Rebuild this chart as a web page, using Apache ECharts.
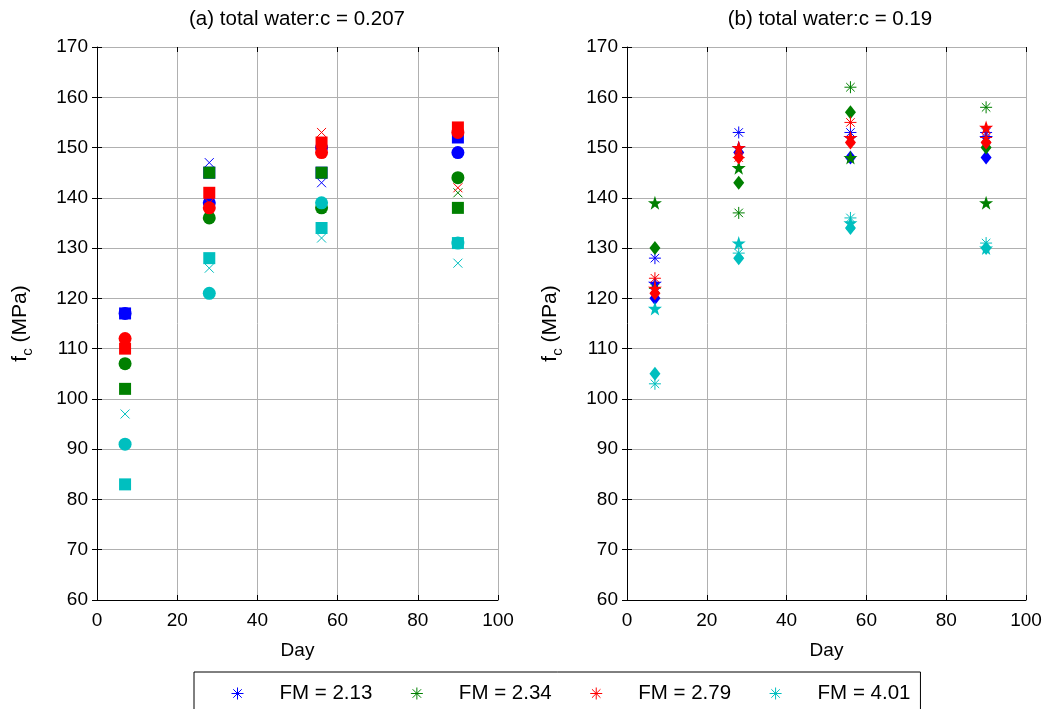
<!DOCTYPE html>
<html>
<head>
<meta charset="utf-8">
<script src="https://cdn.jsdelivr.net/npm/echarts@6/dist/echarts.min.js"></script>
<style>
html,body{margin:0;padding:0;background:#fff;}
#chart{width:1059px;height:709px;}
</style>
</head>
<body>
<div id="chart"></div>
<script>
// ---------- data ----------
const days = [7, 28, 56, 90];
const xTicks = [0, 20, 40, 60, 80, 100];
const yTicks = [60, 70, 80, 90, 100, 110, 120, 130, 140, 150, 160, 170];
const fmLabels = ['FM = 2.13', 'FM = 2.34', 'FM = 2.79', 'FM = 4.01'];
const titleA = '(a) total water:c = 0.207';
const titleB = '(b) total water:c = 0.19';

// panel (a): square, circle, x markers
const aSquare213 = [117, 145, 145, 152];
const aCircle213 = [117, 139, 150, 149];
const aCross213  = [111, 147, 143, 152];
const aSquare234 = [102, 145, 145, 138];
const aCircle234 = [107, 136, 138, 144];
const aCross234  = [107, 137, 138, 141];
const aSquare279 = [110, 141, 151, 154];
const aCircle279 = [112, 138, 149, 153];
const aCross279  = [111, 139, 153, 142];
const aSquare401 = [83, 128, 134, 131];
const aCircle401 = [91, 121, 139, 131];
const aCross401  = [97, 126, 132, 127];

// panel (b): asterisk, pentagram, diamond markers
const bAster213 = [128, 153, 153, 153];
const bStar213  = [123, 150, 152, 152];
const bDiam213  = [120, 149, 148, 148];
const bAster234 = [122, 137, 162, 158];
const bStar234  = [139, 146, 148, 139];
const bDiam234  = [130, 143, 157, 150];
const bAster279 = [124, 148, 155, 152];
const bStar279  = [122, 150, 152, 154];
const bDiam279  = [121, 148, 151, 151];
const bAster401 = [103, 129, 136, 131];
const bStar401  = [118, 131, 135, 130];
const bDiam401  = [105, 128, 134, 130];

// ---------- styles ----------
const colors = ['#0000ff', '#008000', '#ff0000', '#00bfbf'];
const FONT = 'Liberation Sans, Arial, Helvetica, sans-serif';
const FS = 19;
const CROSS = 'path://M0,0L10,10M10,0L0,10';
const ASTER = 'path://M5,0L5,10M0,5L10,5M1.46,1.46L8.54,8.54M8.54,1.46L1.46,8.54';
const STAR = 'path://M50,0L61.8,35.1L98.1,35.1L68.8,56.7L79.4,90.9L50,69.8L20.6,90.9L31.2,56.7L1.9,35.1L38.2,35.1Z';

function pts(vals) { return days.map((d, i) => [d, vals[i]]); }

function mk(name, vals, color, symbol, size, panel, stroke) {
  return {
    name: name,
    type: 'scatter',
    xAxisIndex: panel,
    yAxisIndex: panel,
    data: pts(vals),
    symbol: symbol,
    symbolSize: size,
    silent: true,
    itemStyle: stroke
      ? { color: color, borderColor: color, borderWidth: 1, opacity: 1 }
      : { color: color, borderWidth: 0, opacity: 1 },
    emphasis: { disabled: true }
  };
}

const aSets = [
  [aSquare213, aCircle213, aCross213],
  [aSquare234, aCircle234, aCross234],
  [aSquare279, aCircle279, aCross279],
  [aSquare401, aCircle401, aCross401]
];
const bSets = [
  [bAster213, bStar213, bDiam213],
  [bAster234, bStar234, bDiam234],
  [bAster279, bStar279, bDiam279],
  [bAster401, bStar401, bDiam401]
];

const series = [];
aSets.forEach((s, k) => {
  series.push(mk('a-sq-' + k, s[0], colors[k], 'rect', 12, 0, false));
  series.push(mk('a-ci-' + k, s[1], colors[k], 'circle', 13, 0, false));
  series.push(mk('a-x-' + k, s[2], colors[k], CROSS, 9, 0, true));
});
bSets.forEach((s, k) => {
  series.push(mk(fmLabels[k], s[0], colors[k], ASTER, 12, 1, true));
  series.push(mk('b-st-' + k, s[1], colors[k], STAR, 14, 1, false));
  series.push(mk('b-di-' + k, s[2], colors[k], 'diamond', [11, 14], 1, false));
});

function xAx(gi) {
  return {
    type: 'value', gridIndex: gi, min: xTicks[0], max: xTicks[xTicks.length - 1], interval: 20,
    name: 'Day', nameLocation: 'middle', nameGap: 41,
    nameTextStyle: { fontFamily: FONT, fontSize: FS, color: '#000' },
    axisLine: { show: true, onZero: false, lineStyle: { color: '#000', width: 1 } },
    axisTick: { show: true, inside: true, length: 5, lineStyle: { color: '#000' } },
    axisLabel: { fontFamily: FONT, fontSize: FS, color: '#000', margin: 11 },
    splitLine: { show: true, lineStyle: { color: '#b0b0b0', width: 1 } }
  };
}
function xAxTop(gi) {
  return {
    type: 'value', gridIndex: gi, position: 'top', min: 0, max: 100, interval: 20,
    axisLine: { show: false }, axisLabel: { show: false }, splitLine: { show: false },
    axisTick: { show: true, inside: true, length: 5, lineStyle: { color: '#000' } }
  };
}
function yAx(gi) {
  return {
    type: 'value', gridIndex: gi, min: yTicks[0], max: yTicks[yTicks.length - 1], interval: 10,
    name: 'f{sub|c} (MPa)', nameLocation: 'middle', nameGap: 62, nameRotate: 90,
    nameTextStyle: {
      fontFamily: FONT, fontSize: 21, color: '#000', lineHeight: 30,
      rich: { sub: { fontFamily: FONT, fontSize: 15, color: '#000', verticalAlign: 'bottom', lineHeight: 15 } }
    },
    axisLine: { show: true, onZero: false, lineStyle: { color: '#000', width: 1 } },
    axisTick: { show: true, inside: true, length: 5, lineStyle: { color: '#000' } },
    axisLabel: { fontFamily: FONT, fontSize: FS, color: '#000', margin: 9 },
    splitLine: { show: true, lineStyle: { color: '#b0b0b0', width: 1 } }
  };
}
function yAxRight(gi) {
  return {
    type: 'value', gridIndex: gi, position: 'right', min: 60, max: 170, interval: 10,
    axisLine: { show: false }, axisLabel: { show: false }, splitLine: { show: false },
    axisTick: { show: true, inside: true, length: 5, lineStyle: { color: '#000' } }
  };
}

const option = {
  animation: false,
  backgroundColor: '#fff',
  title: [
    { text: titleA, left: 297, top: 9, textAlign: 'center', padding: 0,
      textStyle: { fontFamily: FONT, fontSize: 20.5, fontWeight: 'normal', color: '#000' } },
    { text: titleB, left: 830, top: 9, textAlign: 'center', padding: 0,
      textStyle: { fontFamily: FONT, fontSize: 20.5, fontWeight: 'normal', color: '#000' } }
  ],
  grid: [
    { left: 97, top: 47, width: 401, height: 553 },
    { left: 627, top: 47, width: 399, height: 553 }
  ],
  xAxis: [xAx(0), xAx(1), xAxTop(0), xAxTop(1)],
  yAxis: [yAx(0), yAx(1), yAxRight(0), yAxRight(1)],
  legend: {
    left: 194, top: 672,
    orient: 'horizontal',
    padding: [11, 10, 11, 37],
    itemGap: 38,
    itemWidth: 12,
    itemHeight: 12,
    borderColor: '#000',
    borderWidth: 1,
    selectedMode: false,
    icon: ASTER,
    textStyle: { fontFamily: FONT, fontSize: 20.5, color: '#000', lineHeight: 20, padding: [0, 0, 0, 31] },
    data: fmLabels.map((n, k) => ({
      name: n, icon: ASTER,
      itemStyle: { color: colors[k], borderColor: colors[k], borderWidth: 1 }
    }))
  },
  series: series
};

const chart = echarts.init(document.getElementById('chart'), null, { renderer: 'canvas' });
chart.setOption(option);
</script>
</body>
</html>
